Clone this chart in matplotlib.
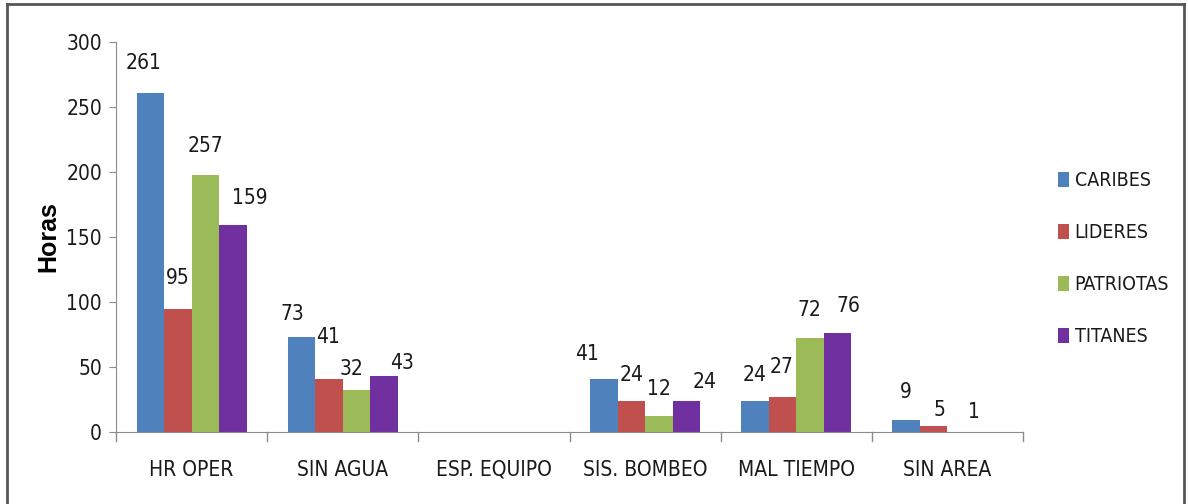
import matplotlib.pyplot as plt
from matplotlib.lines import Line2D
import numpy as np

categories = ['HR OPER', 'SIN AGUA', 'ESP. EQUIPO', 'SIS. BOMBEO', 'MAL TIEMPO', 'SIN AREA']
series = ['CARIBES', 'LIDERES', 'PATRIOTAS', 'TITANES']
colors = ['#4F81BD', '#C0504D', '#9BBB59', '#7030A0']

# bar heights as drawn
heights = {
    'CARIBES':   [261, 73, 0, 41, 24, 9],
    'LIDERES':   [95, 41, 0, 24, 27, 5],
    'PATRIOTAS': [198, 32, 0, 12, 72, 0],
    'TITANES':   [159, 43, 0, 24, 76, 0],
}
# data labels as printed on the chart
labels = {
    'CARIBES':   ['261', '73', '', '41', '24', '9'],
    'LIDERES':   ['95', '41', '', '24', '27', '5'],
    'PATRIOTAS': ['257', '32', '', '12', '72', '1'],
    'TITANES':   ['159', '43', '', '24', '76', ''],
}
# label nudges in pixels (dx, dy) from the top centre of each bar
nudges = {
    'CARIBES':   [(-7, 30), (-9, 23), (0, 0), (-17, 25), (0, 26), (0, 28)],
    'LIDERES':   [(0, 30), (-1, 42), (0, 0), (0, 26), (-1, 30), (6, 16)],
    'PATRIOTAS': [(0, 29), (-5, 21), (0, 0), (0, 27), (-1, 28), (13, 20)],
    'TITANES':   [(17, 27), (18, 13), (0, 0), (18, 19), (11, 27), (0, 0)],
}

plt.rcParams['font.family'] = ['DejaVu Sans']
plt.rcParams['font.stretch'] = 'condensed'
txtcol = '#1a1a1a'

fig = plt.figure(figsize=(11.88, 5.04), dpi=100)
ax = fig.add_axes([116 / 1188, (504 - 432) / 504, (1023 - 116) / 1188, 390 / 504])

x = np.arange(len(categories))
w = 0.182
for i, s in enumerate(series):
    pos = x + (i - 1.5) * w
    bars = ax.bar(pos, heights[s], w, color=colors[i], label=s, zorder=2)
    for b, txt, (dx, dy) in zip(bars, labels[s], nudges[s]):
        if txt:
            ax.annotate(txt, (b.get_x() + b.get_width() / 2, b.get_height()),
                        xytext=(dx, dy), textcoords='offset pixels',
                        ha='center', va='center', fontsize=15, color=txtcol,
                        fontstretch='condensed')

ax.set_xlim(-0.5, len(categories) - 0.5)
ax.set_ylim(0, 300)
ax.set_yticks(range(0, 301, 50))
ax.tick_params(axis='y', labelsize=15, length=5, color='#8c8c8c', labelcolor=txtcol, pad=5)
ax.set_xticks(x)
ax.set_xticklabels(categories, fontsize=15, color=txtcol, fontstretch='condensed')
ax.tick_params(axis='x', length=0, pad=20)
for k in range(len(categories) + 1):
    ax.plot([k - 0.5, k - 0.5], [0, -7], color='#8c8c8c', lw=1, clip_on=False)
for side in ['top', 'right']:
    ax.spines[side].set_visible(False)
for side in ['left', 'bottom']:
    ax.spines[side].set_color('#8c8c8c')

ax.set_ylabel('Horas', fontsize=18, fontweight='bold', family='Liberation Sans',
              fontstretch='normal', labelpad=4)

leg = ax.legend(loc='upper left', bbox_to_anchor=(1058 / 1188, 1 - 171 / 504),
                bbox_transform=fig.transFigure, frameon=False,
                prop={'size': 14, 'stretch': 'condensed'},
                handlelength=0.55, handleheight=0.8, handletextpad=0.3,
                labelspacing=1.7, borderpad=0, borderaxespad=0)
for t in leg.get_texts():
    t.set_color(txtcol)

# outer frame
for xs, ys in [([7, 7], [504, 4]), ([7, 1184], [4, 4]), ([1184, 1184], [4, 504])]:
    fig.add_artist(Line2D([v / 1188 for v in xs], [1 - v / 504 for v in ys],
                          color='#555555', lw=2, transform=fig.transFigure))

fig.savefig('out.png', dpi=100)
